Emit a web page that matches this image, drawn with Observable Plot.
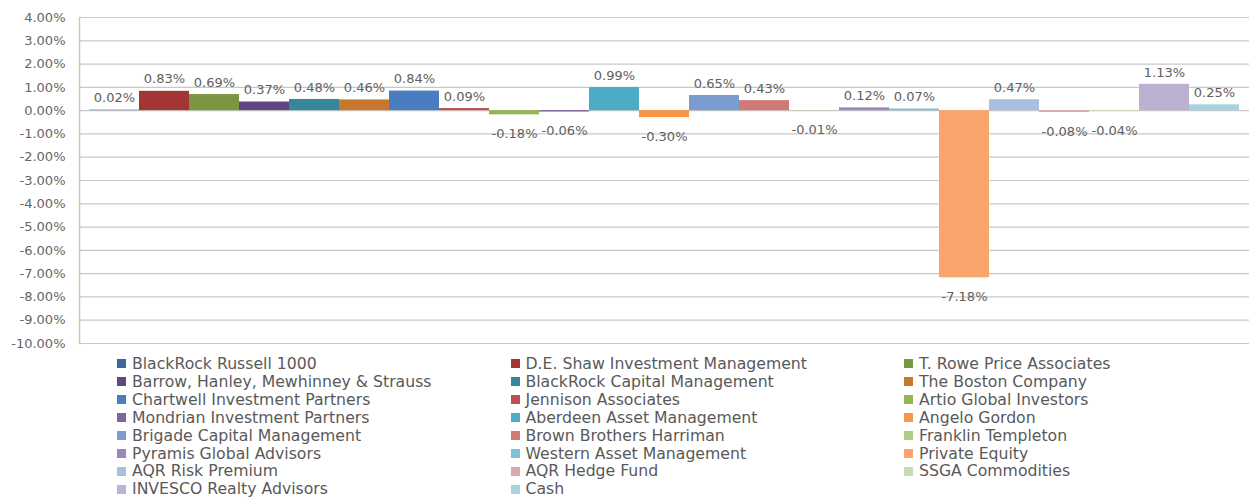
<!DOCTYPE html>
<html>
<head>
<meta charset="utf-8">
<script src="https://cdn.jsdelivr.net/npm/d3@7"></script>
<script src="https://cdn.jsdelivr.net/npm/@observablehq/plot@0.6"></script>
<style>
  html, body { margin: 0; padding: 0; background: #fff; }
  body { width: 1249px; height: 498px; overflow: hidden; font-family: "DejaVu Sans", sans-serif; }
  #legend {
    display: grid;
    grid-template-columns: 393.5px 393.5px 393.5px;
    margin: 5px 0 0 117px;
    font-size: 15.7px;
    line-height: 17.9px;
    color: #595959;
  }
  .item { display: flex; align-items: center; white-space: nowrap; }
  .sw { width: 9px; height: 9px; margin-right: 6px; flex: none; }
</style>
</head>
<body>
<div id="chart"></div>
<div id="legend"></div>
<script>
const managers = [
  "BlackRock Russell 1000", "D.E. Shaw Investment Management", "T. Rowe Price Associates",
  "Barrow, Hanley, Mewhinney & Strauss", "BlackRock Capital Management", "The Boston Company",
  "Chartwell Investment Partners", "Jennison Associates", "Artio Global Investors",
  "Mondrian Investment Partners", "Aberdeen Asset Management", "Angelo Gordon",
  "Brigade Capital Management", "Brown Brothers Harriman", "Franklin Templeton",
  "Pyramis Global Advisors", "Western Asset Management", "Private Equity",
  "AQR Risk Premium", "AQR Hedge Fund", "SSGA Commodities",
  "INVESCO Realty Advisors", "Cash"
];
const returns = [
  0.02, 0.83, 0.69,
  0.37, 0.48, 0.46,
  0.84, 0.09, -0.18,
  -0.06, 0.99, -0.30,
  0.65, 0.43, -0.01,
  0.12, 0.07, -7.18,
  0.47, -0.08, -0.04,
  1.13, 0.25
];
const colors = [
  "#3A679C", "#A23633", "#7A9641",
  "#5F4782", "#36879C", "#C8772F",
  "#4A7CC0", "#C0504D", "#93B653",
  "#8064A2", "#4BACC6", "#F79646",
  "#7B9CD0", "#D07A78", "#B3CC85",
  "#9C87BC", "#79C3D7", "#F9A56C",
  "#A9BEE0", "#DDA9A8", "#C9DBAE",
  "#BCB1D0", "#A7D3DF"
];
const yTicks = d3.range(-10, 5, 1);

const data = managers.map((m, i) => ({ manager: m, value: returns[i], color: colors[i] }));
const fmt = v => v.toFixed(2) + "%";

const chart = Plot.plot({
  width: 1249,
  height: 350,
  marginTop: 17,
  marginBottom: 7,
  marginLeft: 79,
  marginRight: 0,
  style: { fontFamily: "DejaVu Sans, sans-serif", fontSize: "13px", color: "#666", background: "#fff" },
  x: { domain: managers, padding: 0, axis: null },
  y: { domain: [-10, 4], ticks: yTicks, tickFormat: fmt, tickSize: 0, tickPadding: 14, label: null },
  marks: [
    Plot.ruleY(yTicks, { stroke: "#C8C8C8", strokeWidth: 1.2 }),
    Plot.frame({ anchor: "left", stroke: "#C8C8C8", strokeWidth: 1.5 }),
    Plot.barY(data, { x: "manager", y: "value", fill: "color" }),
    Plot.text(data.filter(d => d.value >= 0), { x: "manager", y: "value", text: d => fmt(d.value), dy: -12, fill: "#606060", fontSize: 13 }),
    Plot.text(data.filter(d => d.value < 0), { x: "manager", y: "value", text: d => fmt(d.value), dy: 19, fill: "#606060", fontSize: 13 })
  ]
});
document.getElementById("chart").appendChild(chart);

const legend = document.getElementById("legend");
managers.forEach((m, i) => {
  const it = document.createElement("div");
  it.className = "item";
  const sw = document.createElement("span");
  sw.className = "sw";
  sw.style.background = colors[i];
  const tx = document.createElement("span");
  tx.textContent = m;
  it.appendChild(sw);
  it.appendChild(tx);
  legend.appendChild(it);
});
</script>
</body>
</html>
